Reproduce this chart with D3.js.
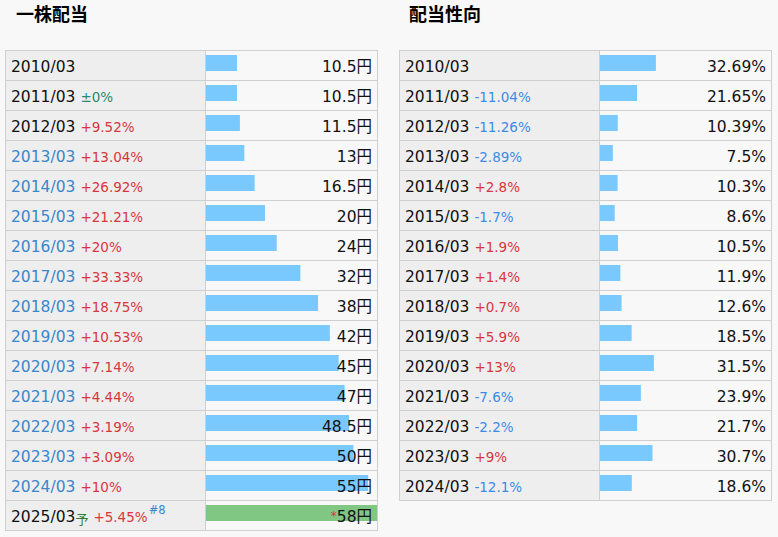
<!DOCTYPE html>
<html>
<head>
<meta charset="utf-8">
<script src="https://cdn.jsdelivr.net/npm/d3@7"></script>
<style>
  body { margin: 0; background: #f8f8f8; }
  svg { display: block; }
  text { font-family: "DejaVu Sans", "Noto Sans CJK JP", sans-serif; }
  .title { font-family: "Noto Sans CJK JP", sans-serif; font-weight: bold; font-size: 18px; }
</style>
</head>
<body>
<svg id="chart" width="778" height="537"></svg>
<script>
// 一株配当
var divYears = ['2010/03','2011/03','2012/03','2013/03','2014/03','2015/03','2016/03','2017/03',
                '2018/03','2019/03','2020/03','2021/03','2022/03','2023/03','2024/03','2025/03'];
var divValues = [10.5, 10.5, 11.5, 13, 16.5, 20, 24, 32, 38, 42, 45, 47, 48.5, 50, 55, 58];
var divChanges = [null, 0, 9.52, 13.04, 26.92, 21.21, 20, 33.33, 18.75, 10.53, 7.14, 4.44, 3.19, 3.09, 10, 5.45];
var divLinked = ['2013/03','2014/03','2015/03','2016/03','2017/03','2018/03','2019/03','2020/03',
                 '2021/03','2022/03','2023/03','2024/03'];
var divForecast = ['2025/03'];

// 配当性向
var payYears = ['2010/03','2011/03','2012/03','2013/03','2014/03','2015/03','2016/03','2017/03',
                '2018/03','2019/03','2020/03','2021/03','2022/03','2023/03','2024/03'];
var payValues = [32.69, 21.65, 10.39, 7.5, 10.3, 8.6, 10.5, 11.9, 12.6, 18.5, 31.5, 23.9, 21.7, 30.7, 18.6];
var payChanges = [null, -11.04, -11.26, -2.89, 2.8, -1.7, 1.9, 1.4, 0.7, 5.9, 13, -7.6, -2.2, 9, -12.1];

var svg = d3.select('#chart');

var ROW = 30, TOP = 50, LABELW = 200, BARW = 171;
var BLUE_BAR = '#79c9ff', GREEN_BAR = '#80c784';
var RED = '#d9363e', NEG = '#3d8be8', ZERO = '#2a8a6a', LINK = '#3a87cc';

function fmtChange(c) {
  if (c === 0) return '±0%';
  return (c > 0 ? '+' : '-') + Math.abs(c) + '%';
}
function changeColor(c) {
  return c === 0 ? ZERO : (c > 0 ? RED : NEG);
}

function drawTable(opt) {
  var g = svg.append('g').attr('transform', 'translate(' + opt.x + ',0)');
  var n = opt.years.length;
  var y = d3.scaleBand().domain(opt.years).range([TOP, TOP + n * ROW]);
  var w = d3.scaleLinear().domain(opt.domain).range([0, BARW]);

  g.append('text').attr('class', 'title').attr('x', opt.titleX).attr('y', 21).text(opt.title);

  // cells
  g.selectAll('rect.lab').data(opt.years).enter().append('rect')
    .attr('x', 0).attr('y', function(d) { return y(d); })
    .attr('width', LABELW).attr('height', ROW).attr('fill', '#eeeeee');

  g.selectAll('rect.bar').data(opt.years).enter().append('rect')
    .attr('x', LABELW + 1)
    .attr('y', function(d) { return y(d) + 5; })
    .attr('width', function(d, i) { return w(opt.values[i]); })
    .attr('height', 16)
    .attr('fill', function(d) { return opt.forecast.indexOf(d) >= 0 ? GREEN_BAR : BLUE_BAR; });

  // grid lines
  var lines = g.append('g').attr('stroke', '#cfcfcf').attr('stroke-width', 1).attr('fill', 'none');
  opt.years.forEach(function(d) {
    lines.append('line').attr('x1', 0).attr('x2', LABELW + 1 + BARW)
      .attr('y1', y(d) + 0.5).attr('y2', y(d) + 0.5);
  });
  lines.append('rect').attr('x', 0.5).attr('y', TOP + 0.5)
    .attr('width', LABELW + 1 + BARW).attr('height', n * ROW);
  lines.append('line').attr('x1', LABELW + 0.5).attr('x2', LABELW + 0.5)
    .attr('y1', TOP).attr('y2', TOP + n * ROW);

  // labels
  opt.years.forEach(function(d, i) {
    var by = y(d) + 22;
    var lab = g.append('text').attr('x', 6).attr('y', by).attr('font-size', '15.5px')
      .attr('fill', opt.linked.indexOf(d) >= 0 ? LINK : '#111').text(d);
    var cx = 6 + lab.node().getComputedTextLength();
    if (opt.forecast.indexOf(d) >= 0) {
      var yo = g.append('text').attr('x', cx).attr('y', by + 2).attr('font-size', '13px')
        .attr('font-family', '"Noto Sans CJK JP", sans-serif')
        .attr('fill', '#2e7d32').text('予');
      cx += yo.node().getComputedTextLength();
    }
    var c = opt.changes[i];
    if (c !== null) {
      var ct = g.append('text').attr('x', cx + 5).attr('y', by).attr('font-size', '13.5px')
        .attr('fill', changeColor(c)).text(fmtChange(c));
      cx += 5 + ct.node().getComputedTextLength();
      if (opt.forecast.indexOf(d) >= 0 && opt.note) {
        g.append('text').attr('x', cx + 1).attr('y', by - 8).attr('font-size', '11.5px')
          .attr('fill', LINK).text(opt.note);
      }
    }
    var vt = g.append('text').attr('x', LABELW + BARW - 4).attr('y', by)
      .attr('font-size', '15.5px').attr('text-anchor', 'end').attr('fill', '#111');
    if (opt.forecast.indexOf(d) >= 0) {
      vt.append('tspan').attr('fill', RED).attr('font-size', '12px').attr('dy', -2).text('*');
      vt.append('tspan').attr('dy', 2).text(opt.values[i] + opt.unit);
    } else {
      vt.text(opt.values[i] + opt.unit);
    }
  });
}

drawTable({
  x: 5, title: '一株配当', titleX: 11,
  years: divYears, values: divValues, changes: divChanges,
  linked: divLinked, forecast: divForecast, note: '#8',
  domain: [0, 58], unit: '円'
});

drawTable({
  x: 399, title: '配当性向', titleX: 10,
  years: payYears, values: payValues, changes: payChanges,
  linked: [], forecast: [], note: null,
  domain: [0, 100], unit: '%'
});
</script>
</body>
</html>
